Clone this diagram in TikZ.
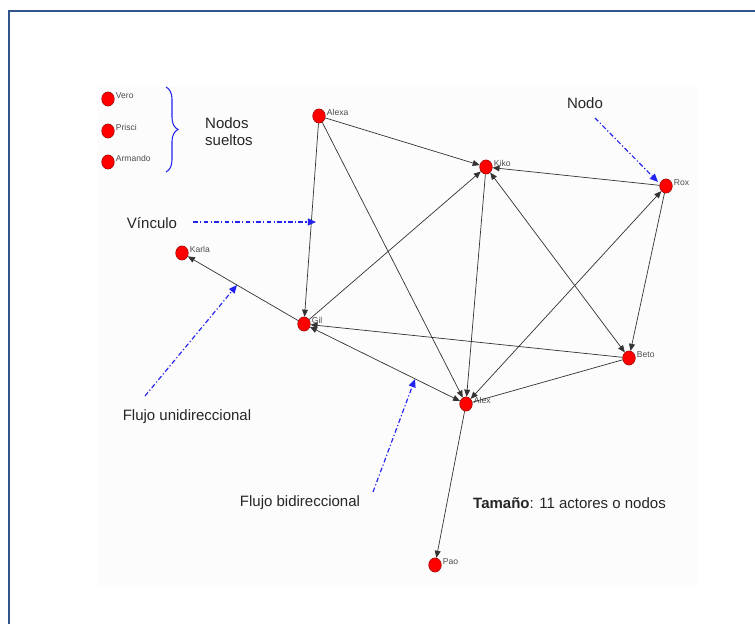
\documentclass[tikz,border=0pt]{standalone}
\usepackage{fontspec}
\setmainfont{Liberation Sans}
\usetikzlibrary{arrows.meta,shapes.geometric,decorations.pathreplacing}

\definecolor{marco}{RGB}{47,85,140}
\definecolor{azulnota}{RGB}{35,35,240}

\tikzset{
  actor/.style={ellipse,draw=red!45!black,line width=0.3pt,fill=red,
    minimum width=0.38cm,minimum height=0.43cm,inner sep=0pt},
  nlab/.style={font=\fontsize{7.3}{8}\selectfont,text=black!70,inner sep=1pt,yshift=3pt},
  flecha/.style={-{Triangle[length=6pt,width=5pt]},black!80,line width=0.6pt},
  doble/.style={{Triangle[length=6pt,width=5pt]}-{Triangle[length=6pt,width=5pt]},black!80,line width=0.6pt},
  linea/.style={black!80,line width=0.6pt},
  nota/.style={azulnota,dash pattern=on 4pt off 2pt on 1pt off 2pt,line width=1pt,-{Triangle[length=7pt,width=6pt]}},
  texto/.style={font=\fontsize{12.8}{14.5}\selectfont,text=black!85,inner sep=0pt}
}

\begin{document}
\begin{tikzpicture}[x=0.03cm,y=-0.03cm]
    \useasboundingbox (0,0) rectangle (755,624);
    \fill[black!1] (97,87) rectangle (697,585);
    \draw[marco,line width=1.6pt] (9,640) -- (9,11) -- (770,11);

    % actores
    \node[actor,label={[nlab]east:Vero}]    (vero)    at (108,99)  {};
    \node[actor,label={[nlab]east:Prisci}]  (prisci)  at (108,131) {};
    \node[actor,label={[nlab]east:Armando}] (armando) at (108,162) {};
    \node[actor,label={[nlab]east:Alexa}]   (alexa)   at (319,116) {};
    \node[actor,label={[nlab]east:Kiko}]    (kiko)    at (486,167) {};
    \node[actor,label={[nlab]east:Rox}]     (rox)     at (666,186) {};
    \node[actor,label={[nlab]east:Karla}]   (karla)   at (182,253) {};
    \node[actor,label={[nlab]east:Gil}]     (gil)     at (304,324) {};
    \node[actor,label={[nlab]east:Beto}]    (beto)    at (629,358) {};
    \node[actor,label={[nlab]east:Alex}]    (alex)    at (466,404) {};
    \node[actor,label={[nlab]east:Pao}]     (pao)     at (435,565) {};

    % vinculos
    \foreach \a/\b in {alexa/kiko,alexa/gil,alexa/alex,rox/kiko,rox/beto,
                       gil/kiko,kiko/alex,beto/gil,gil/karla,alex/pao}
        \draw[flecha] (\a) -- (\b);
    \foreach \a/\b in {gil/alex,kiko/beto,alex/rox}
        \draw[doble] (\a) -- (\b);
    \draw[linea] (beto) -- (alex);

    % notas
    \node[texto] (tnodo) at (585,103) {Nodo};
    \node[texto] (tvinc) at (152,223) {Vínculo};
    \node[texto,align=left,anchor=west] (tsueltos) at (205,132) {Nodos\\sueltos};
    \node[texto] (tuni) at (187,417) {Flujo unidireccional};
    \node[texto] (tbi) at (300,503) {Flujo bidireccional};
    \node[texto,anchor=west] (ttam) at (473,503) {\textbf{Tamaño}: 11 actores o nodos};

    \coordinate (pnodo) at (658,182);
    \coordinate (pvinc) at (316,222);
    \coordinate (puni) at (237,285);
    \coordinate (pbi) at (415,379);

    \draw[nota] (595,118) -- (pnodo);
    \draw[nota] (193,222) -- (pvinc);
    \draw[nota] (145,396) -- (puni);
    \draw[nota] (373,492) -- (pbi);
    \draw[azulnota,line width=0.9pt,decorate,decoration={brace,amplitude=0.36cm}]
        (166,87) -- (166,172);
\end{tikzpicture}
\end{document}
